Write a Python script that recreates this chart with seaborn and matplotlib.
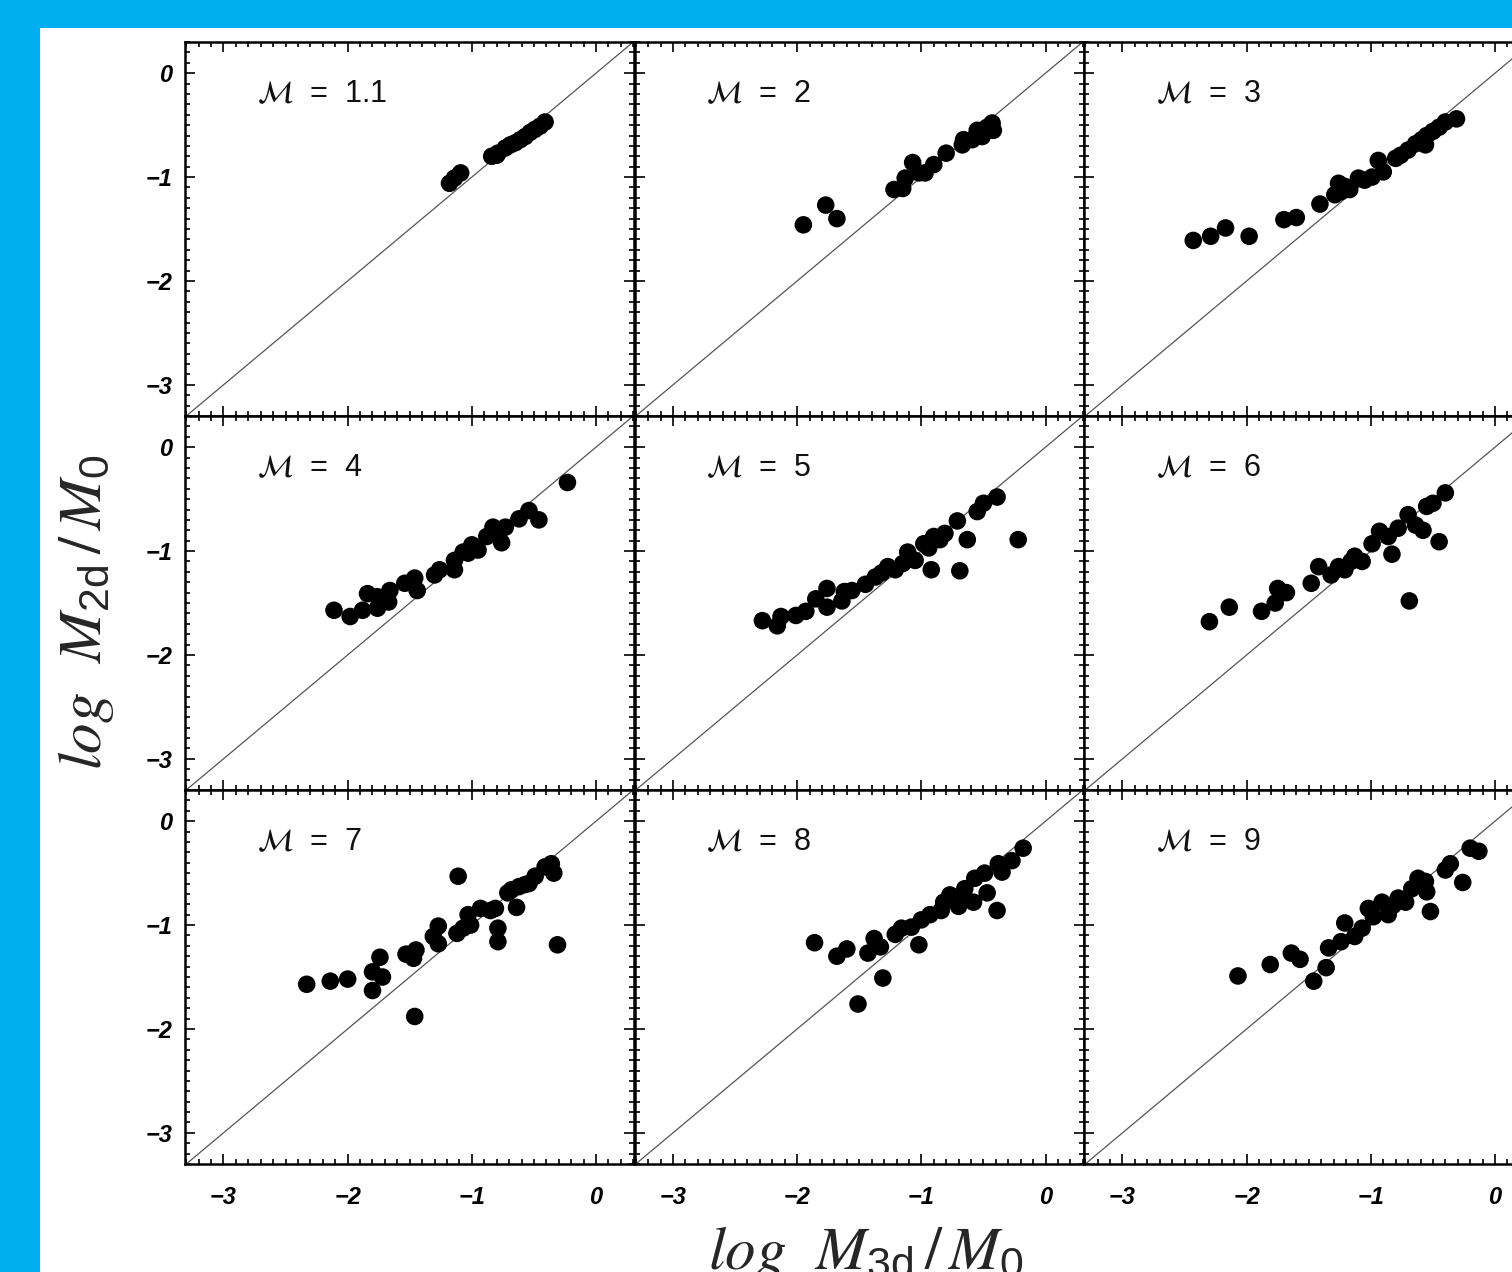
import matplotlib
matplotlib.use("Agg")
import matplotlib.pyplot as plt
import seaborn as sns
import pandas as pd
from matplotlib.ticker import MultipleLocator
from matplotlib.patches import Rectangle

# ---------------- data (log M3d/M0 , log M2d/M0) ----------------
mach_labels = ["1.1", "2", "3", "4", "5", "6", "7", "8", "9"]

x_m11 = [-1.18, -1.14, -1.09, -0.84, -0.80, -0.79, -0.73, -0.69, -0.65, -0.61, -0.57, -0.53, -0.49, -0.45, -0.41]
y_m11 = [-1.06, -1.01, -0.96, -0.80, -0.79, -0.77, -0.72, -0.69, -0.67, -0.64, -0.61, -0.57, -0.54, -0.51, -0.47]

x_m2 = [-1.95, -1.77, -1.68, -1.22, -1.15, -1.13, -1.07, -1.02, -0.97, -0.90, -0.80, -0.67, -0.66, -0.59, -0.55, -0.51, -0.47, -0.43, -0.42]
y_m2 = [-1.46, -1.27, -1.40, -1.12, -1.11, -1.01, -0.86, -0.96, -0.96, -0.88, -0.77, -0.69, -0.64, -0.64, -0.55, -0.61, -0.52, -0.48, -0.55]

x_m3 = [-2.43, -2.29, -2.17, -1.98, -1.70, -1.60, -1.41, -1.29, -1.26, -1.24, -1.21, -1.17, -1.10, -1.05, -0.99, -0.94, -0.90, -0.80, -0.76, -0.70, -0.64, -0.59, -0.56, -0.55, -0.50, -0.45, -0.40, -0.31]
y_m3 = [-1.61, -1.57, -1.49, -1.57, -1.41, -1.39, -1.26, -1.17, -1.06, -1.14, -1.09, -1.12, -1.01, -1.03, -1.00, -0.84, -0.95, -0.82, -0.79, -0.74, -0.68, -0.64, -0.69, -0.60, -0.56, -0.52, -0.47, -0.44]

x_m4 = [-2.11, -1.98, -1.88, -1.84, -1.76, -1.76, -1.67, -1.66, -1.54, -1.46, -1.44, -1.30, -1.26, -1.14, -1.14, -1.07, -1.03, -1.00, -0.95, -0.88, -0.83, -0.79, -0.76, -0.73, -0.62, -0.54, -0.46, -0.23]
y_m4 = [-1.57, -1.63, -1.57, -1.41, -1.44, -1.55, -1.49, -1.38, -1.31, -1.26, -1.38, -1.23, -1.18, -1.18, -1.09, -1.01, -1.02, -0.94, -0.99, -0.86, -0.77, -0.83, -0.92, -0.77, -0.69, -0.61, -0.70, -0.34]

x_m5 = [-2.28, -2.16, -2.13, -2.01, -1.93, -1.85, -1.76, -1.76, -1.64, -1.62, -1.56, -1.45, -1.37, -1.32, -1.27, -1.21, -1.15, -1.11, -1.05, -0.98, -0.94, -0.90, -0.85, -0.81, -0.71, -0.63, -0.55, -0.50, -0.39, -0.92, -0.69, -0.22]
y_m5 = [-1.67, -1.72, -1.63, -1.62, -1.58, -1.46, -1.36, -1.54, -1.48, -1.39, -1.38, -1.32, -1.25, -1.21, -1.15, -1.18, -1.12, -1.01, -1.09, -0.93, -0.97, -0.86, -0.89, -0.83, -0.71, -0.89, -0.62, -0.54, -0.48, -1.18, -1.19, -0.89]

x_m6 = [-2.30, -2.14, -1.88, -1.77, -1.75, -1.68, -1.48, -1.42, -1.32, -1.26, -1.21, -1.16, -1.13, -1.07, -0.99, -0.93, -0.86, -0.83, -0.78, -0.70, -0.64, -0.58, -0.55, -0.50, -0.45, -0.40, -0.69]
y_m6 = [-1.68, -1.54, -1.58, -1.50, -1.36, -1.40, -1.31, -1.15, -1.23, -1.15, -1.18, -1.10, -1.05, -1.10, -0.93, -0.81, -0.86, -1.03, -0.78, -0.65, -0.75, -0.80, -0.57, -0.54, -0.91, -0.44, -1.48]

x_m7 = [-2.33, -2.14, -2.00, -1.80, -1.80, -1.74, -1.72, -1.53, -1.47, -1.45, -1.46, -1.31, -1.27, -1.27, -1.11, -1.12, -1.07, -1.03, -1.01, -0.93, -0.85, -0.81, -0.79, -0.79, -0.71, -0.68, -0.64, -0.62, -0.57, -0.54, -0.49, -0.41, -0.36, -0.34, -0.31]
y_m7 = [-1.57, -1.54, -1.52, -1.63, -1.45, -1.31, -1.50, -1.28, -1.32, -1.24, -1.88, -1.11, -1.01, -1.18, -0.53, -1.08, -1.03, -0.90, -1.00, -0.84, -0.86, -0.84, -1.03, -1.16, -0.69, -0.66, -0.83, -0.63, -0.61, -0.60, -0.53, -0.44, -0.41, -0.50, -1.19]

x_m8 = [-1.86, -1.68, -1.60, -1.43, -1.38, -1.33, -1.31, -1.51, -1.21, -1.16, -1.08, -1.02, -1.00, -0.93, -0.84, -0.82, -0.77, -0.70, -0.70, -0.65, -0.58, -0.57, -0.49, -0.47, -0.39, -0.38, -0.35, -0.27, -0.18]
y_m8 = [-1.17, -1.30, -1.23, -1.27, -1.13, -1.21, -1.51, -1.76, -1.09, -1.03, -1.02, -1.19, -0.95, -0.90, -0.86, -0.78, -0.71, -0.82, -0.73, -0.65, -0.78, -0.55, -0.50, -0.69, -0.86, -0.41, -0.49, -0.38, -0.26]

x_m9 = [-2.07, -1.81, -1.64, -1.57, -1.46, -1.36, -1.34, -1.24, -1.21, -1.13, -1.07, -1.02, -0.98, -0.91, -0.86, -0.82, -0.78, -0.72, -0.67, -0.62, -0.56, -0.55, -0.52, -0.40, -0.36, -0.26, -0.20, -0.13]
y_m9 = [-1.49, -1.38, -1.27, -1.33, -1.54, -1.41, -1.22, -1.16, -0.98, -1.11, -1.03, -0.84, -0.92, -0.78, -0.90, -0.81, -0.74, -0.78, -0.65, -0.55, -0.58, -0.68, -0.87, -0.47, -0.41, -0.59, -0.26, -0.29]

panels = [
    (mach_labels[0], x_m11, y_m11),
    (mach_labels[1], x_m2, y_m2),
    (mach_labels[2], x_m3, y_m3),
    (mach_labels[3], x_m4, y_m4),
    (mach_labels[4], x_m5, y_m5),
    (mach_labels[5], x_m6, y_m6),
    (mach_labels[6], x_m7, y_m7),
    (mach_labels[7], x_m8, y_m8),
    (mach_labels[8], x_m9, y_m9),
]

major_ticks = [-3, -2, -1, 0]
tick_labels = ["\u22123", "\u22122", "\u22121", "0"]

# ---------------- style ----------------
sns.set_theme(style="ticks")
plt.rcParams["mathtext.fontset"] = "stix"
plt.rcParams["font.family"] = ["Liberation Sans", "DejaVu Sans"]

W, H = 1512, 1272
fig = plt.figure(figsize=(W / 100, H / 100), dpi=100, facecolor="#00AEEF")
fig.patches.append(Rectangle((40 / W, 0), 1, 1 - 28 / H, transform=fig.transFigure,
                             facecolor="white", edgecolor="none", zorder=-5))

left0, top0, pw, ph = 185, 42, 449.5, 374

for i, (lab, xs, ys) in enumerate(panels):
    r, c = divmod(i, 3)
    ax = fig.add_axes([(left0 + c * pw) / W, 1 - (top0 + (r + 1) * ph) / H, pw / W, ph / H])
    ax.set_zorder(1)
    ax.set_facecolor("white")
    df = pd.DataFrame({"x": xs, "y": ys})
    ax.axline((0, 0), slope=1, color="#555555", lw=0.9, zorder=2)
    sns.scatterplot(data=df, x="x", y="y", ax=ax, color="black", s=160,
                    linewidth=0, edgecolor="none", zorder=3)
    ax.set_xlim(-3.31, 0.31)
    ax.set_ylim(-3.30, 0.30)
    ax.set_xlabel("")
    ax.set_ylabel("")
    ax.set_xticks(major_ticks, labels=tick_labels, fontsize=17, fontstyle="italic", fontweight="bold")
    ax.set_yticks(major_ticks, labels=tick_labels, fontsize=17, fontstyle="italic", fontweight="bold")
    ax.xaxis.set_minor_locator(MultipleLocator(0.1))
    ax.yaxis.set_minor_locator(MultipleLocator(0.1))
    ax.tick_params(which="both", direction="in", top=True, right=True, bottom=True, left=True,
                   color="black", width=1.2, labelcolor="black")
    ax.tick_params(which="major", length=7.5)
    ax.tick_params(which="minor", length=3.8)
    ax.tick_params(axis="x", pad=16, labelbottom=(r == 2))
    ax.tick_params(axis="y", pad=9, labelleft=(c == 0))
    for sp in ax.spines.values():
        sp.set_linewidth(1.8)
        sp.set_color("black")
    ax.text(0.16, 0.86, r"$\mathcal{M}$  =  " + lab, transform=ax.transAxes,
            fontsize=22, ha="left", va="center", color="#111111")

fig.text(866 / W, 1 - 1224 / H, r"$log\ \ M_{\mathregular{3d}}\,/\,M_{\mathregular{0}}$",
         fontsize=44, ha="center", va="top", zorder=5)
fig.text(86 / W, 1 - 612 / H, r"$log\ \ M_{\mathregular{2d}}\,/\,M_{\mathregular{0}}$",
         fontsize=44, ha="center", va="center", rotation=90, zorder=5)

fig.savefig("out.png", dpi=100, facecolor=fig.get_facecolor())
